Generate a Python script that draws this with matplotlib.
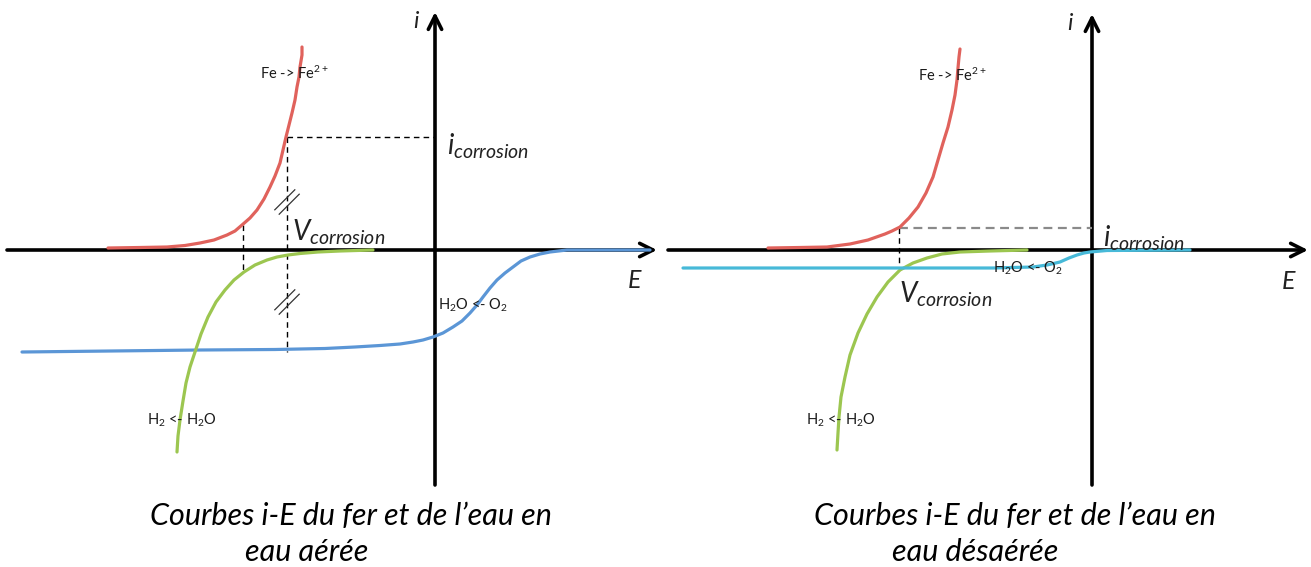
import matplotlib
matplotlib.use("Agg")
import matplotlib.pyplot as plt

plt.rcParams["font.family"] = ["Lato", "DejaVu Sans"]
plt.rcParams["mathtext.fontset"] = "custom"
plt.rcParams["mathtext.it"] = "Lato:italic"
plt.rcParams["mathtext.rm"] = "Lato"
plt.rcParams["mathtext.bf"] = "Lato:bold"

# units: E and i in arbitrary units, origin at the axes crossing
# --- aerated water (left panel) ---
fe_aer_E = [-327, -295, -268, -250, -235, -221, -208, -200, -193, -185, -178, -171, -165, -160, -155,
            -152, -149, -146, -143, -140, -138, -136, -135, -133, -133]
fe_aer_i = [2, 2.5, 3, 4.5, 7, 10, 15, 19, 25, 32, 40, 51, 63, 74, 87,
            100, 113, 125, 137, 150, 163, 173, 183, 195, 203]
h2_aer_E = [-258, -257, -255, -252, -249, -245, -240, -234, -227, -219, -210,
            -201, -191, -180, -168, -158, -147, -135, -117, -95, -62]
h2_aer_i = [-202, -186, -170, -151, -133, -117, -102, -84, -67, -52, -40,
            -30, -22, -15, -10, -7, -5, -3.5, -2, -1, 0]
o2_aer_E = [-413, -235, -160, -110, -80, -55, -35, -22, -12, -2, 8, 18, 27, 35, 42, 48, 55,
            62, 70, 78, 86, 95, 105, 115, 132, 215]
o2_aer_i = [-102, -100, -99.5, -98.5, -97, -95.5, -94, -92, -90, -87, -83, -77, -71, -63, -55, -47, -38,
            -30, -23, -17, -11, -7, -4, -2, 0, 0]
i_corr_aer = 113
v_corr_aer = -148
i_h2_knee_aer = (-192, 25, -20)   # E, i on Fe curve, i on H2 curve
o2_limit_aer = -102

# --- deaerated water (right panel) ---
fe_des_E = [-324, -292, -265, -242, -224, -207, -200, -192, -183, -174, -166, -159, -154, -149,
            -144, -140, -137, -135, -134, -133, -132]
fe_des_i = [2, 2.5, 3, 6, 10, 16, 19, 23, 32, 43, 57, 73, 90, 107,
            123, 140, 155, 170, 182, 193, 201]
h2_des_E = [-255, -254, -253, -251, -247, -242, -234, -225, -215, -204, -192, -179, -165, -150,
            -132, -102, -65]
h2_des_i = [-200, -183, -167, -147, -127, -105, -83, -64, -47, -32, -20, -13, -8, -4,
            -2, -1, 0]
o2_des_E = [-409, -232, -99, -59, -45, -32, -23, -15, -8, -2, 15, 98]
o2_des_i = [-18, -18, -18, -17, -15, -12, -8, -5, -3, -2, -0.5, 0]
i_corr_des = 22
v_corr_des = -193
o2_limit_des = -18

RED = "#E0625C"
GREEN = "#9CC650"
BLUE = "#5B96D6"
CYAN = "#47B9D8"
TXT = "#1a1a1a"
CAPTION_SIZE = 22


def draw_axes(ax, xlim, ylim, h_span, v_span):
    ax.set_xlim(*xlim)
    ax.set_ylim(*ylim)
    ax.axis("off")
    arrow = dict(arrowstyle="->", lw=2.6, color="black", mutation_scale=24, shrinkA=0, shrinkB=0)
    ax.annotate("", xy=(h_span[1], 0), xytext=(h_span[0], 0), arrowprops=arrow, zorder=1)
    ax.annotate("", xy=(0, v_span[1]), xytext=(0, v_span[0]), arrowprops=arrow, zorder=1)


def curve(ax, E, i, color):
    ax.plot(E, i, color=color, lw=2.3, solid_capstyle="round", solid_joinstyle="round", zorder=3)


def small(ax, x, y, s):
    ax.text(x, y, s, fontsize=10.5, color=TXT, ha="left", va="center", zorder=5)


def big(ax, x, y, s, size=17):
    ax.text(x, y, s, fontsize=size, color="#222222", ha="left", va="center", zorder=5)


def slash(ax, E, i):
    for d in (-2.2, 2.2):
        ax.plot([E - 10 - d, E + 10 - d], [i - 10 + d, i + 10 + d], color="#333333", lw=0.9, zorder=4)


fig = plt.figure(figsize=(13.11, 5.67), dpi=100)
axl = fig.add_axes([0, 0, 660 / 1311, 1])
axr = fig.add_axes([660 / 1311, 0, 651 / 1311, 1])

# left: aerated
draw_axes(axl, (-435, 225), (-317, 250), (-428, 222), (-235, 238))
curve(axl, o2_aer_E, o2_aer_i, BLUE)
curve(axl, h2_aer_E, h2_aer_i, GREEN)
curve(axl, fe_aer_E, fe_aer_i, RED)
dash = dict(color="black", lw=1.0, ls=(0, (4, 3)), zorder=2)
axl.plot([v_corr_aer, 0], [i_corr_aer, i_corr_aer], **dash)
axl.plot([v_corr_aer, v_corr_aer], [i_corr_aer, o2_limit_aer], **dash)
axl.plot([i_h2_knee_aer[0]] * 2, [i_h2_knee_aer[1], i_h2_knee_aer[2]], **dash)
slash(axl, v_corr_aer, 48)
slash(axl, v_corr_aer, -52)
small(axl, -175, 177, r"Fe -> Fe$^{2+}$")
small(axl, 3, -55, r"H$_2$O <- O$_2$")
small(axl, -288, -170, r"H$_2$ <- H$_2$O")
big(axl, 12, 104, r"$i_{corrosion}$", 20)
big(axl, -143, 18, r"$V_{corrosion}$", 20)
big(axl, -22, 229, r"$i$", 17)
big(axl, 192, -30, r"$E$", 18)
axl.text(-285, -275, "Courbes i-E du fer et de l\u2019eau en", fontsize=CAPTION_SIZE, style="italic",
         ha="left", va="baseline")
axl.text(-190, -311, "eau a\u00e9r\u00e9e", fontsize=CAPTION_SIZE, style="italic", ha="left", va="baseline")

# right: deaerated
draw_axes(axr, (-432, 219), (-317, 250), (-424, 216), (-235, 236))
curve(axr, h2_des_E, h2_des_i, GREEN)
curve(axr, fe_des_E, fe_des_i, RED)
curve(axr, o2_des_E, o2_des_i, CYAN)
axr.plot([v_corr_des, 0], [i_corr_des, i_corr_des], color="#8a8a8a", lw=1.6, ls=(0, (4, 2.5)), zorder=2)
axr.plot([v_corr_des, v_corr_des], [i_corr_des, o2_limit_des], **dash)
small(axr, -174, 175, r"Fe -> Fe$^{2+}$")
small(axr, -99, -18, r"H$_2$O <- O$_2$")
small(axr, -286, -170, r"H$_2$ <- H$_2$O")
big(axr, 11, 12, r"$i_{corrosion}$", 20)
big(axr, -193, -44, r"$V_{corrosion}$", 20)
big(axr, -25, 226, r"$i$", 17)
big(axr, 189, -31, r"$E$", 18)
axr.text(-278, -275, "Courbes i-E du fer et de l\u2019eau en", fontsize=CAPTION_SIZE, style="italic",
         ha="left", va="baseline")
axr.text(-200, -311, "eau d\u00e9sa\u00e9r\u00e9e", fontsize=CAPTION_SIZE, style="italic", ha="left", va="baseline")

fig.savefig("out.png", dpi=100)
